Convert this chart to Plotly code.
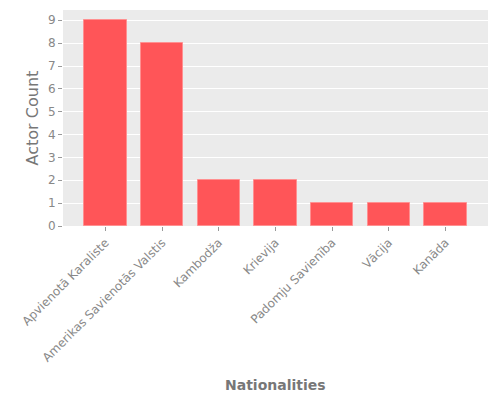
import plotly.graph_objects as go

# Actor count per nationality
nationalities = [
    'Apvienotā Karaliste',
    'Amerikas Savienotās Valstis',
    'Kambodža',
    'Krievija',
    'Padomju Savienība',
    'Vācija',
    'Kanāda',
]
actor_counts = [9, 8, 2, 2, 1, 1, 1]
y_ticks = list(range(0, 10))

fig = go.Figure()
fig.add_trace(
    go.Bar(
        x=nationalities,
        y=actor_counts,
        width=0.75,
        marker=dict(color='#FF5558', line=dict(color='#FF9091', width=1)),
    )
)

fig.update_layout(
    width=500,
    height=400,
    margin=dict(l=63, r=12, t=10, b=174),
    paper_bgcolor='white',
    plot_bgcolor='#EBEBEB',
    font=dict(family='DejaVu Sans', size=12, color='#888888'),
    showlegend=False,
    bargap=0,
)

fig.update_xaxes(
    range=[-0.75, 6.75],
    automargin=False,
    tickangle=-45,
    ticks='outside',
    ticklen=4,
    tickcolor='#999999',
    showgrid=False,
)

fig.update_yaxes(
    range=[0, 9.45],
    automargin=False,
    tickvals=y_ticks,
    ticks='outside',
    ticklen=4,
    tickcolor='#999999',
    gridcolor='white',
    gridwidth=1,
    zeroline=False,
)

# axis titles placed as in the original
fig.add_annotation(
    text='<b>Nationalities</b>', xref='paper', yref='paper',
    x=0.5, y=-0.735, yanchor='middle', showarrow=False,
    font=dict(size=14, color='#777777'),
)
fig.add_annotation(
    text='Actor Count', xref='paper', yref='paper',
    x=-0.072, y=0.5, xanchor='center', yanchor='middle', textangle=-90,
    showarrow=False, font=dict(size=16, color='#777777'),
)

# drop the default page margin so the figure sits at the window corner
fig.write_html(
    "out.html",
    config={'displayModeBar': False},
    post_script="document.body.style.margin='0';",
)
